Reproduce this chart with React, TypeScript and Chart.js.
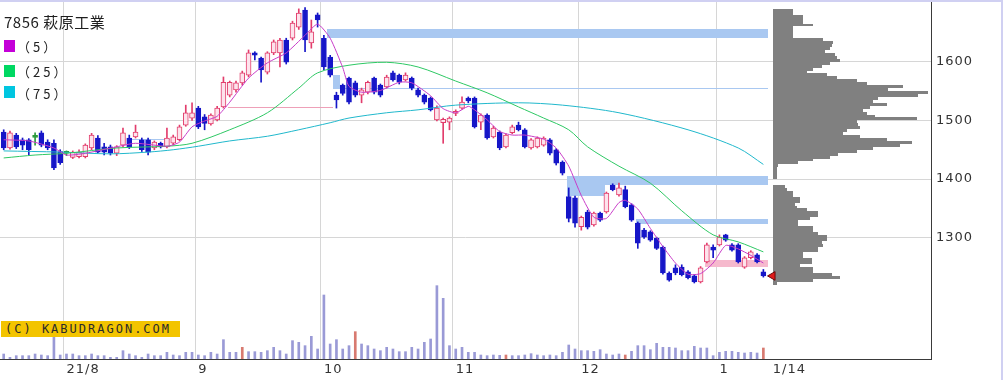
import React, { useEffect, useRef } from 'react';
import { Chart, registerables } from 'chart.js';

Chart.register(...registerables);

// ---------------- data ----------------
const title = '7856 萩原工業';
const maLabels = ['（5）', '（25）', '（75）'];
const copyright = '(C) KABUDRAGON.COM';

const opens = [
  1480, 1453, 1475, 1467, 1467, 1471, 1479, 1463, 1461, 1447,
  1444, 1437, 1438, 1438, 1453, 1470, 1455, 1455, 1444, 1458,
  1470, 1472, 1467, 1467, 1453, 1461, 1455, 1461, 1467, 1492,
  1504, 1521, 1506, 1494, 1501, 1523, 1543, 1552, 1564, 1577,
  1615, 1606, 1582, 1615, 1615, 1637, 1640, 1659, 1688, 1632,
  1680, 1640, 1608, 1543, 1560, 1572, 1564, 1543, 1548, 1572,
  1560, 1557, 1581, 1577, 1569, 1572, 1552, 1543, 1538, 1501,
  1496, 1497, 1512, 1521, 1538, 1538, 1497, 1509, 1472, 1480,
  1455, 1479, 1492, 1484, 1453, 1455, 1458, 1467, 1450, 1429,
  1370, 1368, 1319, 1344, 1322, 1342, 1344, 1390, 1373, 1382,
  1356, 1325, 1313, 1310, 1299, 1284, 1240, 1249, 1250, 1242,
  1235, 1225, 1259, 1284, 1288, 1305, 1288, 1288, 1250, 1266,
  1271, 1242,
];
const highs = [
  1484, 1482, 1478, 1470, 1469, 1479, 1482, 1467, 1467, 1450,
  1448, 1448, 1450, 1460, 1478, 1474, 1461, 1458, 1457, 1487,
  1475, 1492, 1470, 1470, 1465, 1463, 1487, 1475, 1492, 1526,
  1530, 1524, 1510, 1511, 1524, 1574, 1567, 1567, 1584, 1620,
  1617, 1608, 1617, 1637, 1640, 1640, 1669, 1690, 1692, 1671,
  1683, 1645, 1611, 1548, 1562, 1574, 1567, 1555, 1567, 1574,
  1562, 1577, 1584, 1579, 1581, 1574, 1555, 1545, 1540, 1525,
  1504, 1506, 1518, 1540, 1540, 1540, 1511, 1511, 1490, 1482,
  1477, 1492, 1497, 1486, 1469, 1472, 1472, 1469, 1452, 1431,
  1385, 1371, 1337, 1347, 1344, 1344, 1378, 1392, 1393, 1388,
  1358, 1327, 1316, 1312, 1301, 1286, 1242, 1254, 1254, 1244,
  1237, 1251, 1291, 1288, 1305, 1306, 1290, 1290, 1268, 1278,
  1273, 1246,
];
const lows = [
  1450, 1451, 1452, 1450, 1441, 1458, 1455, 1450, 1416, 1425,
  1440, 1435, 1436, 1436, 1450, 1444, 1441, 1441, 1440, 1455,
  1452, 1470, 1447, 1441, 1450, 1453, 1453, 1458, 1465, 1490,
  1500, 1486, 1484, 1492, 1499, 1521, 1540, 1548, 1560, 1574,
  1603, 1565, 1579, 1612, 1591, 1596, 1637, 1655, 1617, 1623,
  1659, 1586, 1574, 1521, 1543, 1528, 1540, 1530, 1545, 1545,
  1540, 1555, 1567, 1562, 1567, 1552, 1540, 1528, 1516, 1499,
  1461, 1484, 1508, 1519, 1530, 1487, 1484, 1468, 1470, 1450,
  1453, 1477, 1482, 1453, 1451, 1453, 1456, 1441, 1424, 1407,
  1327, 1318, 1313, 1315, 1320, 1328, 1342, 1380, 1371, 1351,
  1328, 1282, 1299, 1294, 1280, 1238, 1226, 1237, 1235, 1230,
  1223, 1223, 1257, 1266, 1286, 1294, 1277, 1257, 1248, 1264,
  1257, 1233,
];
const closes = [
  1453, 1479, 1455, 1458, 1450, 1471, 1458, 1453, 1419, 1428,
  1444, 1446, 1446, 1458, 1475, 1446, 1446, 1444, 1455, 1479,
  1455, 1480, 1450, 1446, 1463, 1455, 1470, 1472, 1489, 1513,
  1513, 1489, 1495, 1509, 1521, 1565, 1565, 1564, 1581, 1615,
  1611, 1586, 1615, 1634, 1637, 1599, 1666, 1683, 1637, 1651,
  1671, 1591, 1577, 1535, 1546, 1531, 1543, 1552, 1565, 1548,
  1543, 1574, 1569, 1565, 1577, 1555, 1543, 1531, 1518, 1521,
  1502, 1504, 1515, 1531, 1533, 1489, 1509, 1470, 1487, 1453,
  1475, 1489, 1484, 1455, 1467, 1470, 1470, 1444, 1427, 1410,
  1333, 1325, 1335, 1318, 1342, 1330, 1376, 1382, 1385, 1353,
  1330, 1291, 1301, 1296, 1282, 1240, 1228, 1240, 1237, 1232,
  1225, 1249, 1288, 1279, 1301, 1296, 1279, 1259, 1266, 1276,
  1259, 1235,
];
const volumes = [
  15, 5, 10, 10, 10, 15, 12, 10, 68, 12,
  15, 15, 10, 10, 15, 10, 10, 5, 5, 25,
  15, 10, 5, 15, 10, 10, 20, 12, 10, 20,
  20, 12, 10, 20, 15, 58, 20, 20, 35, 22,
  22, 20, 25, 35, 25, 15, 55, 50, 40, 68,
  30, 192, 45, 58, 30, 40, 82, 45, 40, 30,
  25, 35, 30, 22, 22, 35, 30, 50, 60, 220,
  182, 40, 30, 35, 20, 20, 12, 10, 12, 11,
  12, 10, 10, 12, 16, 12, 10, 12, 10, 20,
  42, 30, 25, 25, 23, 28, 15, 12, 15, 12,
  23, 40, 40, 28, 47, 35, 35, 33, 25, 25,
  38, 33, 33, 10, 20, 23, 23, 20, 18, 20,
  18, 33,
];
const redVolumeIdx = [38, 56, 80, 99, 121];

const ma5Idx = [0, 4, 8, 10, 13, 18, 21, 26, 28, 30, 32, 34, 36, 39, 42, 45, 48, 50, 52, 54, 55, 57, 60, 63, 65, 68, 70, 72, 74, 75, 77, 79, 81, 83, 86, 88, 90, 92, 94, 96, 98, 99, 101, 103, 105, 107, 109, 111, 113, 115, 117, 119, 121];
const ma5 = [1467, 1465, 1453, 1441, 1444, 1455, 1461, 1456, 1463, 1489, 1499, 1507, 1531, 1572, 1598, 1615, 1645, 1664, 1640, 1590, 1558, 1548, 1551, 1565, 1564, 1542, 1520, 1513, 1524, 1518, 1501, 1481, 1475, 1475, 1468, 1453, 1422, 1372, 1335, 1333, 1360, 1364, 1349, 1316, 1285, 1257, 1238, 1239, 1257, 1287, 1281, 1270, 1257];
const ma25Idx = [0, 5, 10, 18, 26, 30, 36, 42, 47, 50, 55, 61, 66, 72, 77, 82, 86, 90, 93, 98, 103, 108, 113, 117, 121];
const ma25 = [1436, 1441, 1444, 1453, 1456, 1461, 1484, 1513, 1555, 1581, 1594, 1599, 1591, 1567, 1547, 1523, 1504, 1484, 1455, 1422, 1393, 1346, 1305, 1293, 1276];
const ma75Idx = [0, 9, 17, 23, 27, 31, 36, 42, 47, 52, 55, 61, 66, 72, 82, 89, 98, 109, 117, 121];
const ma75 = [1448, 1446, 1443, 1446, 1450, 1456, 1465, 1473, 1484, 1496, 1504, 1513, 1518, 1526, 1530, 1526, 1513, 1484, 1453, 1425];

const monthStartIdx = [10, 31, 51, 72, 92, 114];
const xLabelPos = [10, 31, 51, 72, 92, 114, 122.5];
const xLabels = ['21/8', '9', '10', '11', '12', '1', '1/14'];
const yTicks = [1300, 1400, 1500, 1600];

// price zones (gaps / levels)
const zoneFrom = [51.5, 52.4, 52.4, 89.8, 89.8, 100.7, 111.7, 35.7, 20.1];
const zoneTo = [121.7, 121.7, 53.6, 121.7, 95.8, 121.7, 121.7, 52.5, 26.5];
const zoneLow = [1640, 1553, 1555, 1390, 1371, 1323, 1250, 1521.5, 1467];
const zoneHigh = [1656, 1556, 1577, 1405, 1405, 1332, 1262, 1523.2, 1469];
const zoneKind = ['blue', 'blue', 'blue', 'blue', 'blue', 'blue', 'pink', 'pinkLine', 'blue'];

// volume-by-price profile (bin top price, volume)
const profileTop = [
  1690, 1685, 1680, 1675, 1670, 1665, 1660, 1655, 1650, 1645,
  1640, 1635, 1630, 1625, 1620, 1615, 1610, 1605, 1600, 1595,
  1590, 1585, 1580, 1575, 1570, 1565, 1560, 1555, 1550, 1545,
  1540, 1535, 1530, 1525, 1520, 1515, 1510, 1505, 1500, 1495,
  1490, 1485, 1480, 1475, 1470, 1465, 1460, 1455, 1450, 1445,
  1440, 1435, 1430, 1425, 1420, 1415, 1410, 1405, 1400, 1395,
  1390, 1385, 1380, 1375, 1370, 1365, 1360, 1355, 1350, 1345,
  1340, 1335, 1330, 1325, 1320, 1315, 1310, 1305, 1300, 1295,
  1290, 1285, 1280, 1275, 1270, 1265, 1260, 1255, 1250, 1245,
  1240, 1235, 1230, 1225,
];
const profileVol = [
  62, 62, 92, 92, 92, 120, 62, 62, 62, 62,
  152, 182, 177, 172, 157, 187, 192, 202, 172, 147,
  122, 102, 162, 192, 252, 282, 392, 347, 467, 437,
  317, 302, 342, 292, 272, 282, 307, 432, 252, 257,
  262, 222, 212, 262, 342, 417, 382, 302, 252, 197,
  172, 122, 77, 17, 12, 12, 12, 12, 0, 0,
  37, 42, 62, 62, 82, 82, 67, 72, 102, 137,
  137, 112, 77, 77, 122, 122, 137, 162, 162, 147,
  152, 137, 137, 92, 92, 117, 117, 82, 122, 122,
  177, 202, 122, 12,
];
const PROFILE_BIN = 5;

// ---------------- geometry / style ----------------
const X_MIN = -0.589;
const X_MAX = 147.7;
const Y_MIN = 1093.5;
const Y_MAX = 1701.7;
const VOL_MAX = 1071;
const PROFILE_BASE = 122.5;
const PROFILE_UNITS_PER_CANDLE = 18.83;
const MARKER_X = 122.46;

const UP_BORDER = '#e23d6c';
const UP_FILL = '#fde3ec';
const DOWN = '#1616c8';
const FLAT = '#2a9a3a';
const ZONE_COLORS: Record<string, string> = {
  blue: '#a9c8f1',
  pink: '#f6b9cd',
  pinkLine: '#eea0b8',
};
const MA_COLORS = ['#c83cc8', '#2ec864', '#20b8cc'];
const LEGEND_COLORS = ['#c400d8', '#00d862', '#00c6e0'];
const TICK_FONT = { family: '"DejaVu Sans", sans-serif', size: 13 };

const overlayPlugin = {
  id: 'overlay',
  beforeDraw(chart: any) {
    try { chart.ctx.letterSpacing = '1px'; } catch (e) { /* ignore */ }
  },
  beforeDatasetsDraw(chart: any) {
    const { ctx, chartArea: ca, scales } = chart;
    const xs = scales.x;
    const ys = scales.y;
    ctx.save();
    ctx.beginPath();
    ctx.rect(ca.left, ca.top, ca.right - ca.left, ca.bottom - ca.top);
    ctx.clip();
    zoneFrom.forEach((f, k) => {
      const x1 = Math.round(xs.getPixelForValue(f));
      const x2 = Math.round(xs.getPixelForValue(zoneTo[k]));
      const y1 = Math.round(ys.getPixelForValue(zoneHigh[k]));
      const y2 = Math.round(ys.getPixelForValue(zoneLow[k]));
      ctx.fillStyle = ZONE_COLORS[zoneKind[k]];
      ctx.fillRect(x1, y1, x2 - x1, Math.max(1, y2 - y1));
    });
    ctx.fillStyle = '#808080';
    const x0 = Math.round(xs.getPixelForValue(PROFILE_BASE));
    profileTop.forEach((p, k) => {
      const v = profileVol[k];
      if (!v) return;
      const xe = Math.round(xs.getPixelForValue(PROFILE_BASE + v / PROFILE_UNITS_PER_CANDLE));
      const yt = Math.round(ys.getPixelForValue(p));
      const yb = Math.round(ys.getPixelForValue(p - PROFILE_BIN));
      ctx.fillRect(x0, yt, Math.max(1, xe - x0), yb - yt);
    });
    ctx.restore();
  },
};

export default function App() {
  const ref = useRef<HTMLCanvasElement>(null);

  useEffect(() => {
    const canvas = ref.current;
    if (!canvas) return;
    const ids = opens.map((_, i) => i);
    const kind = ids.map((i) => (closes[i] > opens[i] ? 'up' : closes[i] < opens[i] ? 'down' : 'flat'));
    const lineColor = (k: string) => (k === 'up' ? UP_BORDER : k === 'down' ? DOWN : FLAT);
    const fillColor = (k: string) => (k === 'up' ? UP_FILL : k === 'down' ? DOWN : FLAT);

    const chart = new Chart(canvas, {
      type: 'bar',
      data: {
        datasets: [
          {
            type: 'bar',
            label: 'volume',
            data: ids.map((i) => ({ x: i, y: volumes[i] })),
            yAxisID: 'vol',
            xAxisID: 'x',
            barThickness: 2,
            grouped: false,
            borderWidth: 0,
            backgroundColor: ids.map((i) => (redVolumeIdx.includes(i) ? '#d87a70' : '#9a9ad6')),
            order: 10,
          } as any,
          {
            type: 'bar',
            label: 'wick',
            data: ids.map((i) => ({ x: i, y: [lows[i], highs[i]] })),
            yAxisID: 'y',
            xAxisID: 'x',
            barThickness: 1,
            grouped: false,
            borderWidth: 0,
            backgroundColor: kind.map(lineColor),
            order: 8,
          } as any,
          {
            type: 'bar',
            label: 'body',
            data: ids.map((i) => ({ x: i, y: [opens[i], closes[i]] })),
            yAxisID: 'y',
            xAxisID: 'x',
            barThickness: 5,
            grouped: false,
            borderWidth: 1,
            borderSkipped: false,
            minBarLength: 2,
            backgroundColor: kind.map(fillColor),
            borderColor: kind.map(lineColor),
            order: 6,
          } as any,
          {
            type: 'line',
            label: 'MA75',
            data: ma75Idx.map((x, k) => ({ x, y: ma75[k] })),
            yAxisID: 'y',
            xAxisID: 'x',
            borderColor: MA_COLORS[2],
            borderWidth: 1,
            pointRadius: 0,
            tension: 0.3,
            order: 4,
          } as any,
          {
            type: 'line',
            label: 'MA25',
            data: ma25Idx.map((x, k) => ({ x, y: ma25[k] })),
            yAxisID: 'y',
            xAxisID: 'x',
            borderColor: MA_COLORS[1],
            borderWidth: 1,
            pointRadius: 0,
            tension: 0.3,
            order: 3,
          } as any,
          {
            type: 'line',
            label: 'MA5',
            data: ma5Idx.map((x, k) => ({ x, y: ma5[k] })),
            yAxisID: 'y',
            xAxisID: 'x',
            borderColor: MA_COLORS[0],
            borderWidth: 1,
            pointRadius: 0,
            tension: 0.2,
            order: 2,
          } as any,
          {
            type: 'line',
            label: 'last',
            data: [{ x: MARKER_X, y: closes[closes.length - 1] }],
            yAxisID: 'y',
            xAxisID: 'x',
            showLine: false,
            pointStyle: 'triangle',
            rotation: 270,
            pointRadius: 5,
            backgroundColor: '#e01a1a',
            borderColor: '#6a0a0a',
            borderWidth: 1,
            order: 0,
          } as any,
        ],
      },
      options: {
        responsive: false,
        maintainAspectRatio: false,
        animation: false,
        devicePixelRatio: 1,
        events: [],
        layout: { padding: { top: 2, left: 0, right: 0, bottom: 0 }, autoPadding: false } as any,
        plugins: { legend: { display: false }, tooltip: { enabled: false } },
        scales: {
          x: {
            type: 'linear',
            position: 'bottom',
            min: X_MIN,
            max: X_MAX,
            offset: false,
            afterBuildTicks: (s: any) => {
              s.ticks = xLabelPos.map((v) => ({ value: v }));
            },
            afterFit: (s: any) => {
              s.height = 21;
              s.paddingLeft = 0;
              s.paddingRight = 0;
            },
            grid: { display: false, drawTicks: false, offset: false },
            border: { display: true, color: '#3a3a3a', width: 1 },
            ticks: {
              autoSkip: false,
              maxRotation: 0,
              minRotation: 0,
              align: 'start',
              padding: 3,
              color: '#333',
              font: TICK_FONT,
              callback: (_v: any, i: number) => xLabels[i],
            },
          },
          xg: {
            type: 'linear',
            position: 'top',
            min: X_MIN,
            max: X_MAX,
            offset: false,
            afterBuildTicks: (s: any) => {
              s.ticks = monthStartIdx.map((v) => ({ value: v - 0.5 }));
            },
            afterFit: (s: any) => {
              s.height = 0;
              s.paddingLeft = 0;
              s.paddingRight = 0;
            },
            grid: { color: '#d6d6d6', lineWidth: 1, drawTicks: false, offset: false },
            border: { display: false },
            ticks: { display: false },
          },
          y: {
            type: 'linear',
            position: 'right',
            min: Y_MIN,
            max: Y_MAX,
            afterBuildTicks: (s: any) => {
              s.ticks = yTicks.map((v) => ({ value: v }));
            },
            afterFit: (s: any) => {
              s.width = 72;
              s.paddingTop = 0;
              s.paddingBottom = 0;
            },
            grid: { color: '#d6d6d6', lineWidth: 1, drawTicks: false },
            border: { display: true, color: '#3a3a3a', width: 1 },
            ticks: {
              padding: 5,
              color: '#333',
              font: TICK_FONT,
              callback: (v: any) => String(v),
            },
          },
          vol: { type: 'linear', display: false, min: 0, max: VOL_MAX },
        } as any,
      },
      plugins: [overlayPlugin],
    });
    return () => chart.destroy();
  }, []);

  const legendTops = [39, 64, 86];
  const squareTops = [40, 65, 86];

  return (
    <div style={{ position: 'fixed', left: 0, top: 0, width: 1003, height: 380, background: '#fff', overflow: 'hidden' }}>
      <canvas ref={ref} width={1003} height={380} style={{ position: 'absolute', left: 0, top: 0, width: 1003, height: 380 }} />
      <div
        style={{
          position: 'absolute',
          left: 4,
          top: 13,
          font: '15px "Noto Sans CJK JP", sans-serif',
          letterSpacing: '0.5px',
          lineHeight: '18px',
          color: '#1e1e1e',
          whiteSpace: 'nowrap',
        }}
      >
        {title}
      </div>
      {maLabels.map((lab, k) => (
        <React.Fragment key={lab}>
          <div style={{ position: 'absolute', left: 4, top: squareTops[k], width: 11, height: 12, background: LEGEND_COLORS[k] }} />
          <div
            style={{
              position: 'absolute',
              left: 17,
              top: legendTops[k],
              font: '13px "Noto Sans CJK JP", sans-serif',
              letterSpacing: '3px',
              lineHeight: '16px',
              color: '#222',
              whiteSpace: 'nowrap',
            }}
          >
            {lab}
          </div>
        </React.Fragment>
      ))}
      <div
        style={{
          position: 'absolute',
          left: 1,
          top: 321,
          width: 179,
          height: 16,
          background: '#f3c400',
          font: '12px "DejaVu Sans Mono", monospace',
          letterSpacing: '2px',
          lineHeight: '16px',
          color: '#2a2a2a',
          paddingLeft: 4,
          boxSizing: 'border-box',
          whiteSpace: 'nowrap',
        }}
      >
        {copyright}
      </div>
      <div
        style={{
          position: 'absolute',
          left: 0,
          top: 0,
          width: 1003,
          height: 380,
          boxSizing: 'border-box',
          borderTop: '2px solid #d0d0f2',
          borderRight: '2px solid #d0d0f2',
          pointerEvents: 'none',
        }}
      />
    </div>
  );
}
